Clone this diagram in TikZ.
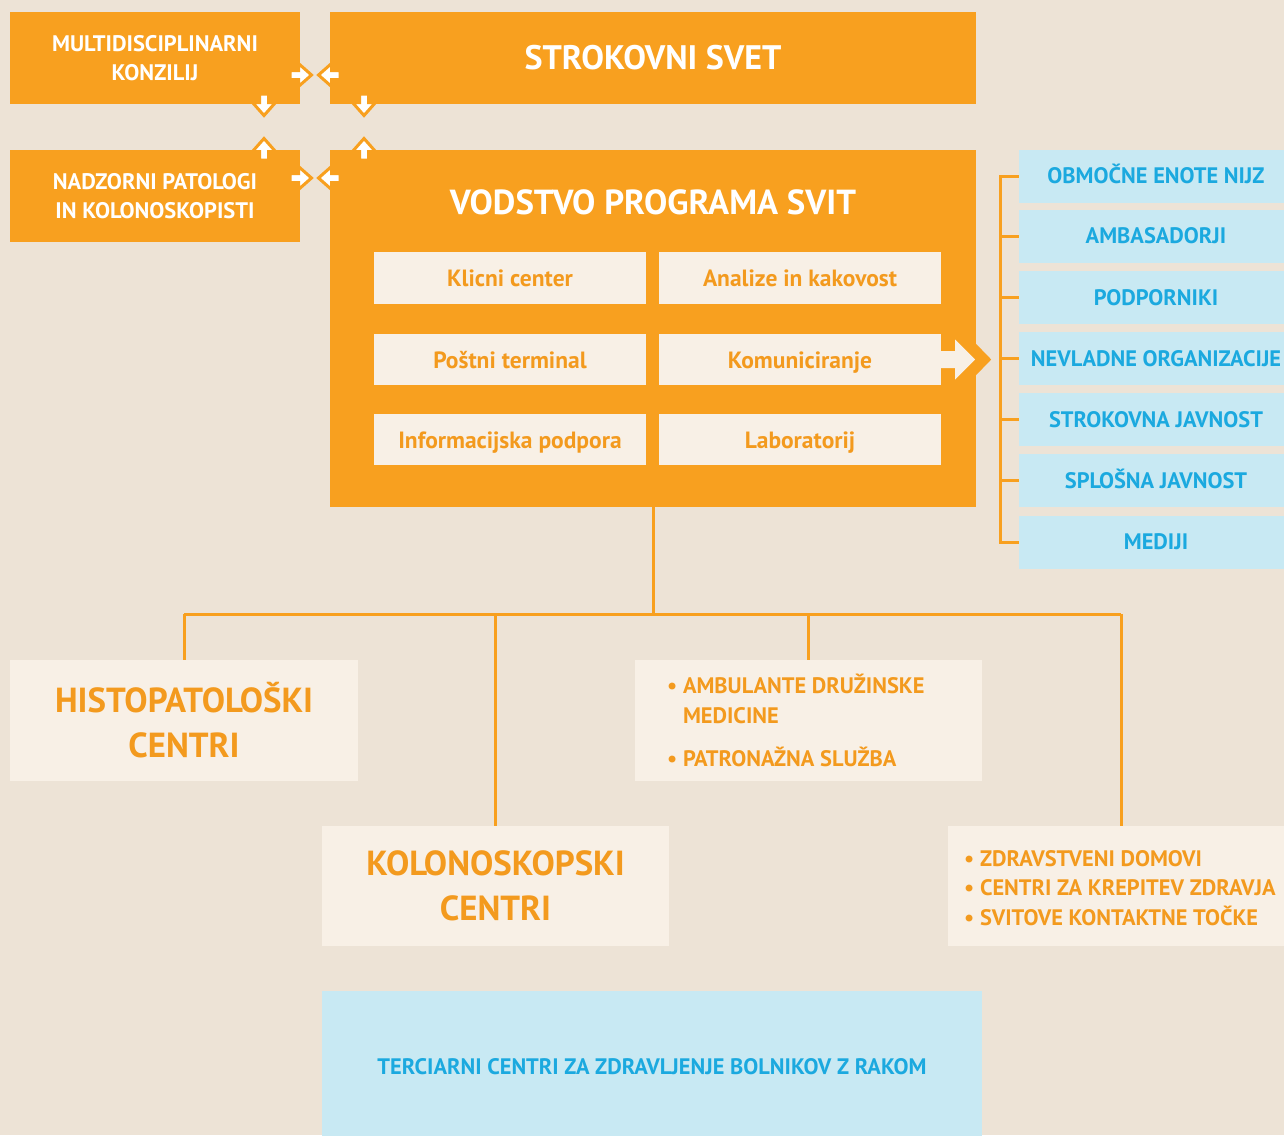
\documentclass[tikz,border=0pt]{standalone}
\usepackage{fontspec}
\setmainfont{PT Sans}
\usetikzlibrary{calc}
\definecolor{bgc}{HTML}{EDE3D6}
\definecolor{org}{HTML}{F8A01F}
\definecolor{crm}{HTML}{F8F0E6}
\definecolor{lblue}{HTML}{C8E9F3}
\definecolor{btxt}{HTML}{1BA9DF}
\definecolor{otxt}{HTML}{F39A1E}
\begin{document}
\begin{tikzpicture}[x=1pt,y=-1pt,
  obox/.style={fill=org,inner sep=0pt,text=white,font=\bfseries\fontsize{22.5}{29}\selectfont,align=center},
  ibox/.style={fill=crm,inner sep=0pt,text=otxt,font=\bfseries\fontsize{23.5}{26}\selectfont,minimum height=52pt,text height=17pt,text depth=0pt},
  bbox/.style={fill=lblue,inner sep=0pt,text=btxt,font=\bfseries\fontsize{22.4}{26}\selectfont,minimum width=274pt,minimum height=53pt,text height=15.7pt,text depth=0pt},
  cbox/.style={fill=crm,inner sep=0pt,text=otxt,font=\bfseries\fontsize{34.8}{45}\selectfont,align=center},
  lbox/.style={fill=crm,inner sep=0pt},
  ltxt/.style={text=otxt,font=\bfseries\fontsize{22.4}{29.5}\selectfont,align=left,anchor=base west,inner sep=0pt},
  conn/.style={draw=org,line width=3pt},
  sarrow/.pic={\filldraw[draw=org,fill=white,line width=3pt,line join=miter]
     (-10,-4.5)--(-1.5,-4.5)--(-1.5,-11.5)--(11.5,0)--(-1.5,11.5)--(-1.5,4.5)--(-10,4.5)--cycle;}
]
\clip (0,0) rectangle (1284,1135);
\fill[bgc] (0,0) rectangle (1284,1135);

% top left boxes
\node[obox,minimum width=290pt,minimum height=92pt] (multi) at (155,58) {MULTIDISCIPLINARNI\\KONZILIJ};
\node[obox,minimum width=646pt,minimum height=92pt,font=\bfseries\fontsize{34}{36}\selectfont] (strok) at (653,58) {STROKOVNI SVET};
\node[obox,minimum width=290pt,minimum height=92pt] (nadz) at (155,196) {NADZORNI PATOLOGI\\IN KOLONOSKOPISTI};
\node[obox,minimum width=646pt,minimum height=357pt] (vod) at (653,328.5) {};
\node[text=white,font=\bfseries\fontsize{34.8}{36}\selectfont,inner sep=0pt] (vodt) at (653,202) {VODSTVO PROGRAMA SVIT};

% inner boxes
\node[ibox,minimum width=272pt] (klic) at (510,278) {Klicni center};
\node[ibox,minimum width=282pt] (anal) at (800,278) {Analize in kakovost};
\node[ibox,minimum width=272pt,minimum height=51pt] (post) at (510,359.5) {Poštni terminal};
\node[ibox,minimum width=282pt,minimum height=51pt] (komu) at (800,359.5) {Komuniciranje};
\node[ibox,minimum width=272pt,minimum height=51pt] (info) at (510,439.5) {Informacijska podpora};
\node[ibox,minimum width=282pt,minimum height=51pt] (lab) at (800,439.5) {Laboratorij};

% komuniciranje arrow
\fill[crm] ($(komu.east)+(-1,-8.5)$) -- ++(15,0) -- ++(0,-11.5) -- ++(20,20) -- ++(-20,20) -- ++(0,-11.5) -- ++(-15,0) -- cycle;
\fill[org] ($(vod.east |- komu.east)+(-0.5,-16)$) -- ++(15.5,16) -- ++(-15.5,16) -- cycle;

% small arrows
\pic at (300,75) {sarrow};
\pic[rotate=180] at (330,75) {sarrow};
\pic[rotate=-90] at (264,104) {sarrow};
\pic[rotate=-90] at (364,104) {sarrow};
\pic[rotate=90] at (264,150) {sarrow};
\pic[rotate=90] at (364,150) {sarrow};
\pic at (300,178) {sarrow};
\pic[rotate=180] at (330,178) {sarrow};

% blue boxes
\node[bbox] (b1) at (1156,176) {OBMOČNE ENOTE NIJZ};
\node[bbox] (b2) at (1156,236) {AMBASADORJI};
\node[bbox] (b3) at (1156,297.5) {PODPORNIKI};
\node[bbox] (b4) at (1156,358.5) {NEVLADNE ORGANIZACIJE};
\node[bbox] (b5) at (1156,419.5) {STROKOVNA JAVNOST};
\node[bbox] (b6) at (1156,480.5) {SPLOŠNA JAVNOST};
\node[bbox] (b7) at (1156,542) {MEDIJI};
\coordinate (brk) at (1000,0);
\draw[conn] (b1.west) -| (brk |- b7.west) -- (b7.west);
\foreach \b in {b2,b3,b4,b5,b6} \draw[conn] (\b.west) -- (brk |- \b.west);

% tree
\coordinate (bus) at (652,614);
\draw[conn] (vod.south) -- (vod.south |- bus);

% lower boxes
\node[cbox,minimum width=348pt,minimum height=121pt] (histo) at (184,720.5) {HISTOPATOLOŠKI\\CENTRI};
\node[lbox,minimum width=347pt,minimum height=121pt] (amb) at (808.5,720.5) {};
\node[ltxt] (ambt) at (667,723) {\textbullet\ AMBULANTE DRUŽINSKE\\\phantom{\textbullet\ }MEDICINE};
\node[ltxt] (patr) at (667,766) {\textbullet\ PATRONAŽNA SLUŽBA};
\node[cbox,minimum width=347pt,minimum height=120pt] (kolo) at (495.5,886) {KOLONOSKOPSKI\\CENTRI};
\node[lbox,minimum width=346pt,minimum height=120pt] (zdr) at (1121,886) {};
\node[ltxt] (zdrt) at (964,925) {\textbullet\ ZDRAVSTVENI DOMOVI\\\textbullet\ CENTRI ZA KREPITEV ZDRAVJA\\\textbullet\ SVITOVE KONTAKTNE TOČKE};
\node[fill=lblue,inner sep=0pt,text=btxt,font=\bfseries\fontsize{22.4}{26}\selectfont,minimum width=660pt,minimum height=152pt] (terc) at (652,1067) {TERCIARNI CENTRI ZA ZDRAVLJENJE BOLNIKOV Z RAKOM};

\draw[conn] (histo.north |- bus) -- (zdr.north |- bus);
\draw[conn] (histo.north |- bus) -- (histo.north);
\draw[conn] (kolo.north |- bus) -- (kolo.north);
\draw[conn] (amb.north |- bus) -- (amb.north);
\draw[conn] (zdr.north |- bus) -- (zdr.north);
\end{tikzpicture}
\end{document}
